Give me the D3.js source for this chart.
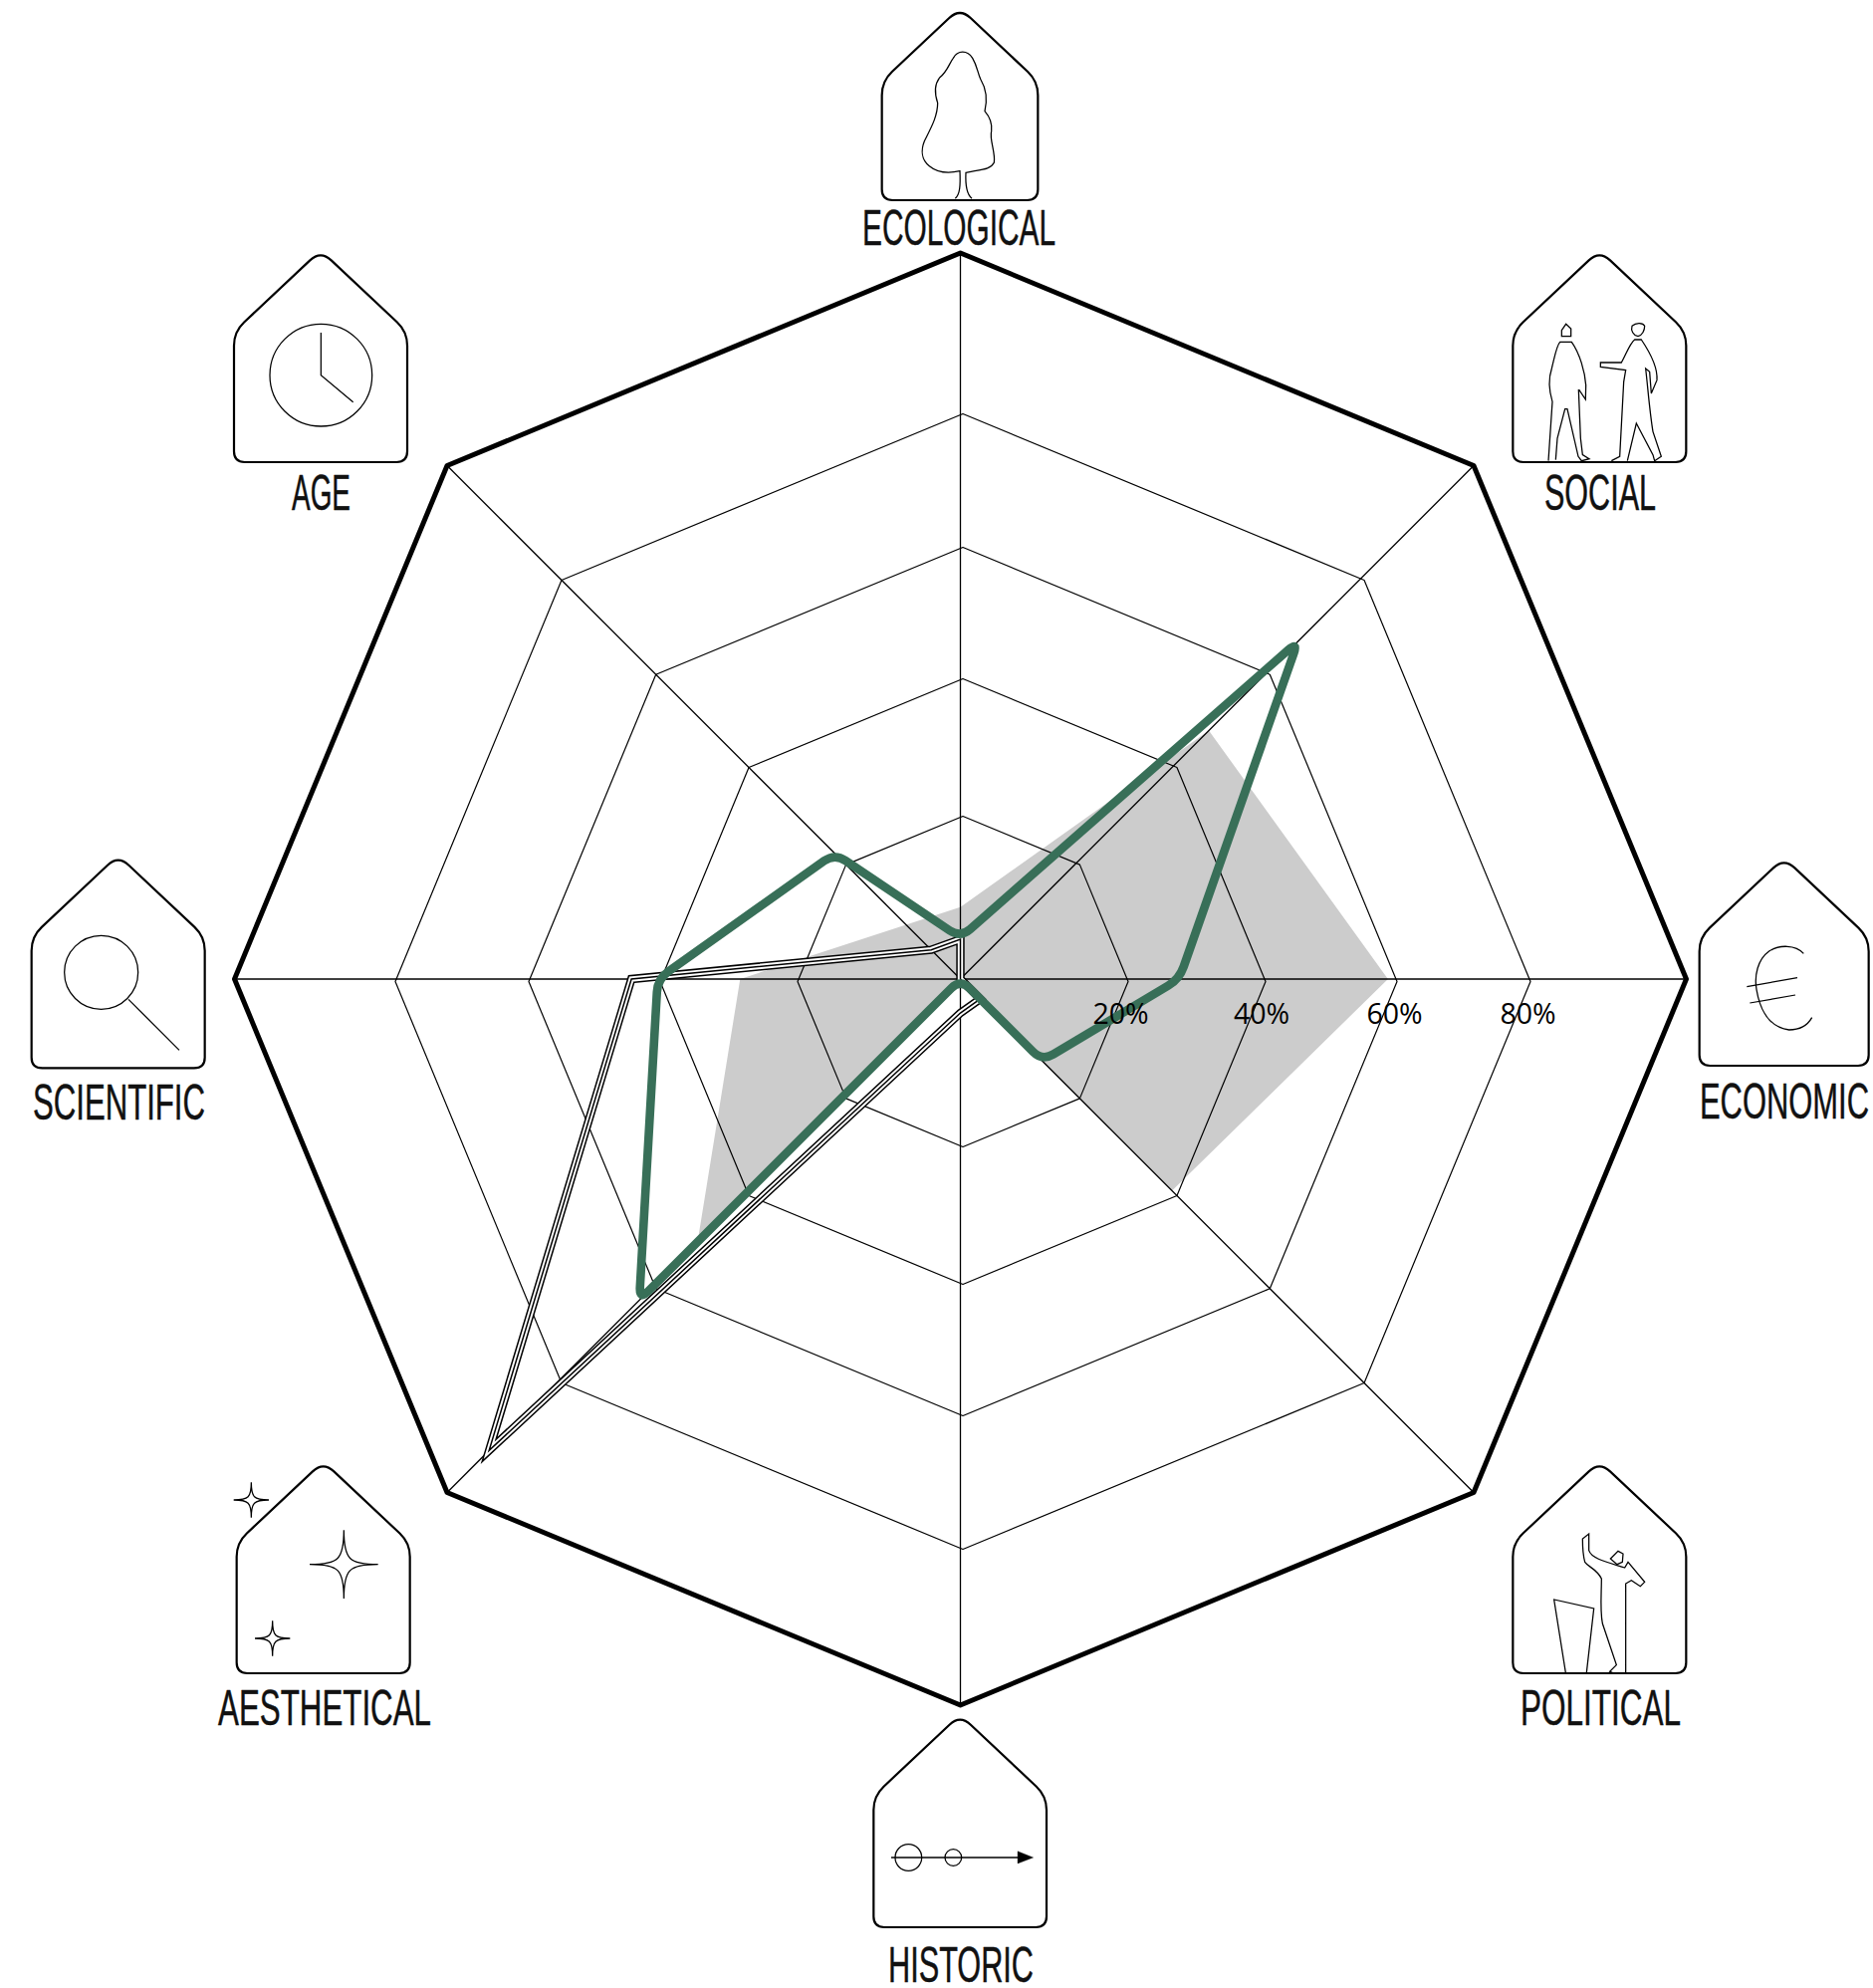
<!DOCTYPE html>
<html>
<head>
<meta charset="utf-8">
<script src="https://cdn.jsdelivr.net/npm/d3@7"></script>
<style>
  html, body { margin: 0; padding: 0; background: #fff; }
  svg { display: block; }
  .label { font-family: "Liberation Sans Narrow", "Liberation Sans", sans-serif; font-size: 50px; fill: #111; stroke: #111; stroke-width: 0.5; stroke-linejoin: round; }
  .tick { font-family: "Open Sans", sans-serif; font-size: 28.5px; fill: #000; text-anchor: middle; }
</style>
</head>
<body>
<svg id="chart" width="1881" height="1996"></svg>
<script>
// clockwise from the top
const categories = ['ECOLOGICAL', 'SOCIAL', 'ECONOMIC', 'POLITICAL', 'HISTORIC', 'AESTHETICAL', 'SCIENTIFIC', 'AGE'];

// values, in percent
const greySeries = [8.7, 47.4, 59, 39.5, 0, 50.5, 28, 9.3];
const tripleSeries = [4.8, 0, 0, 3.4, 4.1, 92.5, 44, 5];
const greenSeries = [5, 66.5, 27.8, 14, 0, 63, 40, 21.8];

const ringValues = [20, 40, 60, 80, 100];
const tickValues = [20, 40, 60, 80];
const tickLabels = ['20%', '40%', '60%', '80%'];

const cx = 964.5, cy = 983;

// the rings are not evenly spaced in the original
const rScale = d3.scaleLinear()
  .domain([0, 20, 40, 60, 80, 100])
  .range([0, 166, 304, 436, 570, 729]);
const angle = d3.scaleLinear().domain([0, categories.length]).range([0, 2 * Math.PI]);

const svg = d3.select('#chart');
const plot = svg.append('g').attr('transform', `translate(${cx},${cy})`);

const radial = d3.lineRadial()
  .angle((d, i) => angle(i))
  .radius(d => rScale(d))
  .curve(d3.curveLinearClosed);

// closed polygon with the corners cut by a quadratic, cut is a number or one per corner
function roundedPath(points, cut) {
  const n = points.length;
  const path = d3.path();
  points.forEach((p, i) => {
    const prev = points[(i + n - 1) % n];
    const next = points[(i + 1) % n];
    const size = Array.isArray(cut) ? cut[i] : cut;
    const toward = (a, b) => {
      const len = Math.hypot(b[0] - a[0], b[1] - a[1]) || 1;
      const c = Math.min(size, len / 2);
      return [a[0] + (b[0] - a[0]) * c / len, a[1] + (b[1] - a[1]) * c / len];
    };
    const a = toward(p, prev);
    const b = toward(p, next);
    if (i === 0) path.moveTo(a[0], a[1]); else path.lineTo(a[0], a[1]);
    path.quadraticCurveTo(p[0], p[1], b[0], b[1]);
  });
  path.closePath();
  return path.toString();
}

// 1) grey area goes under the grid
plot.append('path')
  .attr('d', radial(greySeries))
  .attr('fill', '#cccccc');

// 2) grid. The inner rings sit slightly off centre in the original
plot.selectAll('.ring')
  .data(ringValues)
  .join('path')
  .attr('class', 'ring')
  .attr('d', v => radial(categories.map(() => v)))
  .attr('transform', v => v === 100 ? null : 'translate(2.5,2.5)')
  .attr('fill', 'none')
  .attr('stroke', '#000')
  .attr('stroke-linejoin', 'round')
  .attr('stroke-width', v => v === 100 ? 5 : 1.2);

plot.selectAll('.spoke')
  .data(categories)
  .join('line')
  .attr('class', 'spoke')
  .attr('x2', (d, i) => d3.pointRadial(angle(i), rScale(100))[0])
  .attr('y2', (d, i) => d3.pointRadial(angle(i), rScale(100))[1])
  .attr('stroke', '#000')
  .attr('stroke-width', 1.3);

// 3) triple line: stacked strokes give black/white/black/white/black
[['#000', 8.4], ['#fff', 5.4], ['#000', 1.5]].forEach(([color, width]) => {
  plot.append('path')
    .attr('d', radial(tripleSeries))
    .attr('fill', 'none')
    .attr('stroke', color)
    .attr('stroke-width', width)
    .attr('stroke-linejoin', 'miter')
    .attr('stroke-miterlimit', 30);
});

// 4) green line
plot.append('path')
  .attr('d', roundedPath(greenSeries.map((v, i) => d3.pointRadial(angle(i), rScale(v))), 13))
  .attr('fill', 'none')
  .attr('stroke', '#386f58')
  .attr('stroke-width', 8.6)
  .attr('stroke-linejoin', 'round');

// 5) percent labels on the right spoke
const tickNudge = { 20: -5, 40: -1.5 };
plot.selectAll('.tick')
  .data(tickValues)
  .join('text')
  .attr('class', 'tick')
  .attr('x', v => rScale(v) + (tickNudge[v] || 0))
  .attr('y', 45)
  .text((v, i) => tickLabels[i]);

// 6) icons. Glyph paths are in crop space, three units to a pixel
function housePath(l, r, t, b) {
  const mid = (l + r) / 2;
  const apex = t - 16;
  const shoulder = apex + (r - l) / 2 * 0.94;
  return roundedPath([[l, b], [l, shoulder], [mid, apex], [r, shoulder], [r, b]], [32, 42, 44, 42, 32]);
}

function starPath(x, y, R) {
  const k = 0.15 * R;
  return `M${x},${y - R}C${x},${y - k} ${x + k},${y} ${x + R},${y}C${x + k},${y} ${x},${y + k} ${x},${y + R}` +
    `C${x},${y + k} ${x - k},${y} ${x - R},${y}C${x - k},${y} ${x},${y - k} ${x},${y - R}Z`;
}

const icons = [
  { origin: [840, 0], box: [137, 607, 40, 603], lines: [
    'M358,598C372,585 374,560 372,515C350,520 310,525 280,500C255,480 255,450 265,425C285,385 305,350 305,310C295,280 295,255 310,235C335,215 340,190 352,175C365,150 395,150 410,175C425,200 425,220 435,240C450,265 455,300 447,335C460,350 470,370 467,395C460,420 480,460 475,490C465,510 440,510 390,520C388,560 392,585 408,598'
  ] },
  { origin: [1500, 240], box: [58, 580, 50, 672], lines: [
    'M205,275L218,256L233,270L233,293L205,293Z',
    'M165,668L177,490C165,450 165,420 175,390C185,350 190,320 200,310L235,310C260,345 275,400 278,440L277,483L258,455L256,455L262,600L268,650L288,662L265,668L255,655L222,512L215,512L192,600L187,665',
    'M417,262C430,250 450,252 455,262C455,275 448,290 435,293C420,290 413,275 417,262Z',
    'M355,668L380,655L392,430L398,395L322,385L322,372L385,372C400,345 410,315 425,303L445,303C470,340 495,385 492,425L475,465L470,400L458,390C465,450 470,520 480,580L505,655L485,668L480,650L430,555L403,668'
  ] },
  { origin: [1680, 850], box: [80, 590, 50, 660], lines: [
    'M394,322C370,295 320,295 290,315C255,340 245,390 252,430C262,490 290,545 350,552C380,552 405,540 419,515',
    'M223,422L375,395',
    'M232,471L369,447'
  ] },
  { origin: [1500, 1460], box: [58, 580, 38, 660], lines: [
    'M217,658L182,438L302,465L280,658',
    'M398,658L398,390L415,380L442,398L455,385L405,325L395,342C340,325 295,315 287,290L287,240L268,255C268,280 268,300 275,325C285,340 310,345 325,375C325,420 320,470 328,510C340,545 355,590 370,635L350,655L358,658',
    'M352,315L375,292L390,300L388,325L372,332Z'
  ] },
  { origin: [860, 1716], box: [52, 573, 33, 657], lines: [
    'M105,447L490,447'
  ], circles: [[157, 447, 40], [292, 447, 25]], solid: 'M486,428L533,447L486,465Z' },
  { origin: [210, 1460], box: [83, 605, 38, 660], lines: [
    starPath(406, 332, 103), starPath(127, 138, 53), starPath(191, 555, 53)
  ] },
  { origin: [20, 850], box: [35, 557, 42, 667], lines: [
    'M327,460L480,613'
  ], circles: [[245, 379, 111]] },
  { origin: [220, 240], box: [45, 567, 50, 672], lines: [
    'M307,282L307,410L404,491'
  ], circles: [[307, 410, 154]] }
];

icons.forEach(icon => {
  const g = svg.append('g')
    .attr('transform', `translate(${icon.origin[0]},${icon.origin[1]}) scale(${1 / 3})`)
    .attr('fill', 'none')
    .attr('stroke', '#000');
  g.append('path')
    .attr('d', housePath(...icon.box))
    .attr('stroke-width', 6.6)
    .attr('stroke-linejoin', 'round');
  g.selectAll('path.glyph')
    .data(icon.lines)
    .join('path')
    .attr('class', 'glyph')
    .attr('d', d => d)
    .attr('stroke-width', 3.8);
  g.selectAll('circle')
    .data(icon.circles || [])
    .join('circle')
    .attr('cx', d => d[0])
    .attr('cy', d => d[1])
    .attr('r', d => d[2])
    .attr('stroke-width', 3.8);
  if (icon.solid) g.append('path').attr('d', icon.solid).attr('fill', '#000');
});

// 7) category labels, squeezed to the measured widths. ECONOMIC hangs from its right end
const labelBoxes = [
  [866, 1060, 246], [1551, 1663, 512], [1707, 1877, 1123], [1527, 1688, 1732],
  [892, 1038, 1990], [219, 433, 1732], [33, 206, 1124], [293, 352, 512]
];
svg.selectAll('.label')
  .data(categories)
  .join('text')
  .attr('class', 'label')
  .attr('text-anchor', d => d === 'ECONOMIC' ? 'end' : 'start')
  .attr('x', (d, i) => labelBoxes[i][d === 'ECONOMIC' ? 1 : 0])
  .attr('y', (d, i) => labelBoxes[i][2])
  .attr('textLength', (d, i) => labelBoxes[i][1] - labelBoxes[i][0])
  .attr('lengthAdjust', 'spacingAndGlyphs')
  .text(d => d);
</script>
</body>
</html>
